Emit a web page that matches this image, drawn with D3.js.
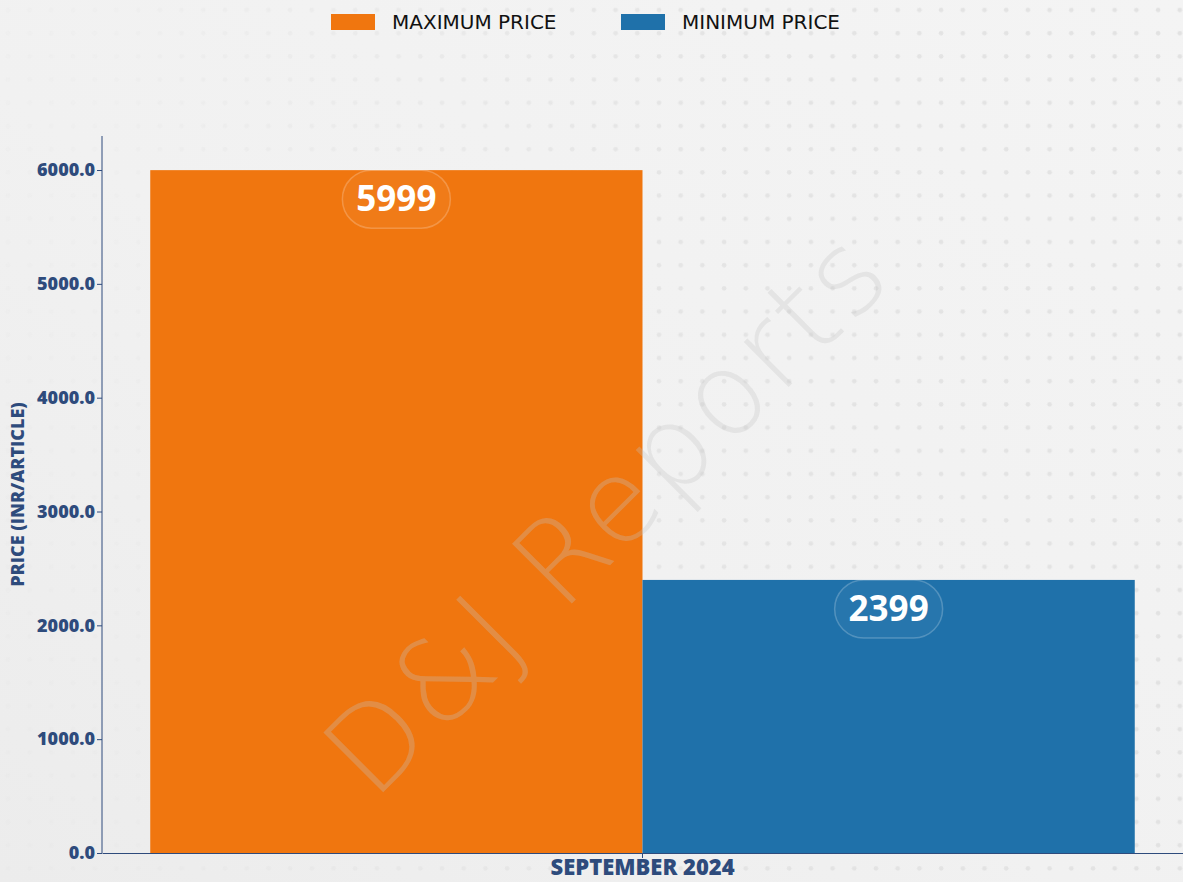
<!DOCTYPE html>
<html>
<head>
<meta charset="utf-8">
<script src="https://cdn.jsdelivr.net/npm/d3@7"></script>
<style>
  html, body { margin: 0; padding: 0; background: #f1f1f1; }
  #chart { width: 1183px; height: 882px; }
  text { font-family: "Open Sans", sans-serif; }
</style>
</head>
<body>
<div id="chart"></div>
<script>
// Datos
const categories = ['SEPTEMBER 2024'];
const seriesNames = ['MAXIMUM PRICE', 'MINIMUM PRICE'];
const maxPrice = [5999];
const minPrice = [2399];
const yTicks = [0, 1000, 2000, 3000, 4000, 5000, 6000];

const COLOR_MAX = '#F0760F',
COLOR_MIN = '#1F71AA',
COLOR_AXIS = '#2E4B7C';

let W = 1183, H = 882;
let margin = {top: 136, right: 0, bottom: 29, left: 102},
    width = W - margin.left - margin.right,
    height = H - margin.top - margin.bottom;

let root = d3.select('#chart').append('svg')
    .attr('width', W)
    .attr('height', H);

let defs = root.append('defs');

//Fondo
let bg = defs.append('linearGradient').attr('id', 'bg').attr('x1', '0').attr('y1', '1').attr('x2', '1').attr('y2', '0');
bg.append('stop').attr('offset', '0').attr('stop-color', '#ececec');
bg.append('stop').attr('offset', '0.45').attr('stop-color', '#f1f1f1');
bg.append('stop').attr('offset', '1').attr('stop-color', '#f4f4f4');
root.append('rect').attr('width', W).attr('height', H).attr('fill', 'url(#bg)');

let dots = defs.append('pattern').attr('id', 'dots').attr('patternUnits', 'userSpaceOnUse')
    .attr('width', 21.7).attr('height', 23.2);
dots.append('circle').attr('cx', 8).attr('cy', 10).attr('r', 2.3).attr('fill', '#e2e2e2');
let fade = defs.append('linearGradient').attr('id', 'fade').attr('x1', '0').attr('y1', '0').attr('x2', '1').attr('y2', '0');
fade.append('stop').attr('offset', '0.1').attr('stop-color', '#fff').attr('stop-opacity', 0.15);
fade.append('stop').attr('offset', '0.6').attr('stop-color', '#fff').attr('stop-opacity', 0.9);
fade.append('stop').attr('offset', '1').attr('stop-color', '#fff').attr('stop-opacity', 1);
defs.append('mask').attr('id', 'fadeMask')
    .append('rect').attr('width', W).attr('height', H).attr('fill', 'url(#fade)');
root.append('rect').attr('width', W).attr('height', H)
    .attr('fill', 'url(#dots)').attr('mask', 'url(#fadeMask)');

let svg = root.append('g')
    .attr('transform', 'translate(' + margin.left + ',' + margin.top + ')');

let x = d3.scaleBand()
    .domain(categories)
    .range([0, width])
    .paddingInner(0)
    .paddingOuter(0.049);

let xSub = d3.scaleBand()
    .domain(seriesNames)
    .range([0, x.bandwidth()]);

let y = d3.scaleLinear()
    .domain([0, d3.max(maxPrice) * 1.05])
    .range([height, 0]);

let color = d3.scaleOrdinal().domain(seriesNames).range([COLOR_MAX, COLOR_MIN]);

let data = categories.map(function(c, i) {
    return {cat: c, values: [{key: seriesNames[0], value: maxPrice[i]}, {key: seriesNames[1], value: minPrice[i]}]};
});

//Barras
let groups = svg.selectAll('.grupo')
    .data(data)
    .enter()
    .append('g')
    .attr('class', 'grupo')
    .attr('transform', function(d) { return 'translate(' + x(d.cat) + ',0)'; });

groups.selectAll('rect')
    .data(function(d) { return d.values; })
    .enter()
    .append('rect')
    .attr('x', function(d) { return xSub(d.key); })
    .attr('y', function(d) { return y(d.value); })
    .attr('width', xSub.bandwidth())
    .attr('height', function(d) { return height - y(d.value); })
    .attr('fill', function(d) { return color(d.key); });

//Etiquetas
let labels = groups.selectAll('.label')
    .data(function(d) { return d.values; })
    .enter()
    .append('g')
    .attr('class', 'label')
    .attr('transform', function(d) { return 'translate(' + (xSub(d.key) + xSub.bandwidth() / 2) + ',' + (y(d.value) + 28) + ')'; });

labels.append('rect')
    .attr('x', -54).attr('y', -28).attr('width', 108).attr('height', 58)
    .attr('rx', 29)
    .attr('fill', 'rgba(255,255,255,0.04)')
    .attr('stroke', 'rgba(255,255,255,0.22)')
    .attr('stroke-width', 1.5);

labels.append('text')
    .attr('text-anchor', 'middle')
    .attr('dy', '0.36em')
    .attr('fill', '#fff')
    .style('font-size', '35px')
    .style('font-weight', '700')
    .text(function(d) { return d.value; });

//Marca de agua
root.append('text')
    .attr('transform', 'translate(606,512) rotate(-45)')
    .attr('text-anchor', 'middle')
    .attr('dy', '0.35em')
    .attr('fill', 'rgba(195,195,195,0.3)')
    .style('font-family', '"DejaVu Sans", sans-serif')
    .style('font-size', '116px')
    .style('font-weight', '200')
    .style('letter-spacing', '4px')
    .text('D&J Reports');

//Ejes
let yAxis = svg.append('g')
    .call(d3.axisLeft(y).tickValues(yTicks).tickSize(5).tickSizeOuter(0).tickFormat(d3.format('.1f')));
yAxis.select('.domain').attr('stroke', COLOR_AXIS).attr('d', 'M0,0V' + height);
yAxis.selectAll('.tick line').attr('stroke', COLOR_AXIS);
yAxis.selectAll('.tick text')
    .attr('x', -7)
    .attr('fill', COLOR_AXIS)
    .style('font-size', '18px')
    .style('font-weight', '800');

let xAxis = svg.append('g')
    .attr('transform', 'translate(0,' + height + ')')
    .call(d3.axisBottom(x).tickSize(5).tickSizeOuter(0));
xAxis.select('.domain').attr('stroke', COLOR_AXIS);
xAxis.selectAll('.tick line').attr('stroke', COLOR_AXIS);
xAxis.selectAll('.tick text')
    .attr('y', 6)
    .attr('fill', COLOR_AXIS)
    .style('font-size', '22px')
    .style('font-weight', '800');

svg.append('text')
    .attr('transform', 'translate(' + (-78) + ',' + (height / 2) + ') rotate(-90)')
    .attr('text-anchor', 'middle')
    .attr('fill', COLOR_AXIS)
    .style('font-size', '18px')
    .style('font-weight', '800')
    .text('PRICE (INR/ARTICLE)');

//Leyenda
let legendX = [331, 621];
let legend = root.selectAll('.legend')
    .data(seriesNames)
    .enter()
    .append('g')
    .attr('class', 'legend')
    .attr('transform', function(d, i) { return 'translate(' + legendX[i] + ',14)'; });

legend.append('rect')
    .attr('width', 44).attr('height', 16)
    .attr('fill', function(d) { return color(d); });

legend.append('text')
    .attr('x', 61).attr('y', 8)
    .attr('dy', '0.36em')
    .attr('fill', '#111')
    .style('font-family', '"DejaVu Sans", sans-serif')
    .style('font-size', '20px')
    .text(function(d) { return d; });
</script>
</body>
</html>
